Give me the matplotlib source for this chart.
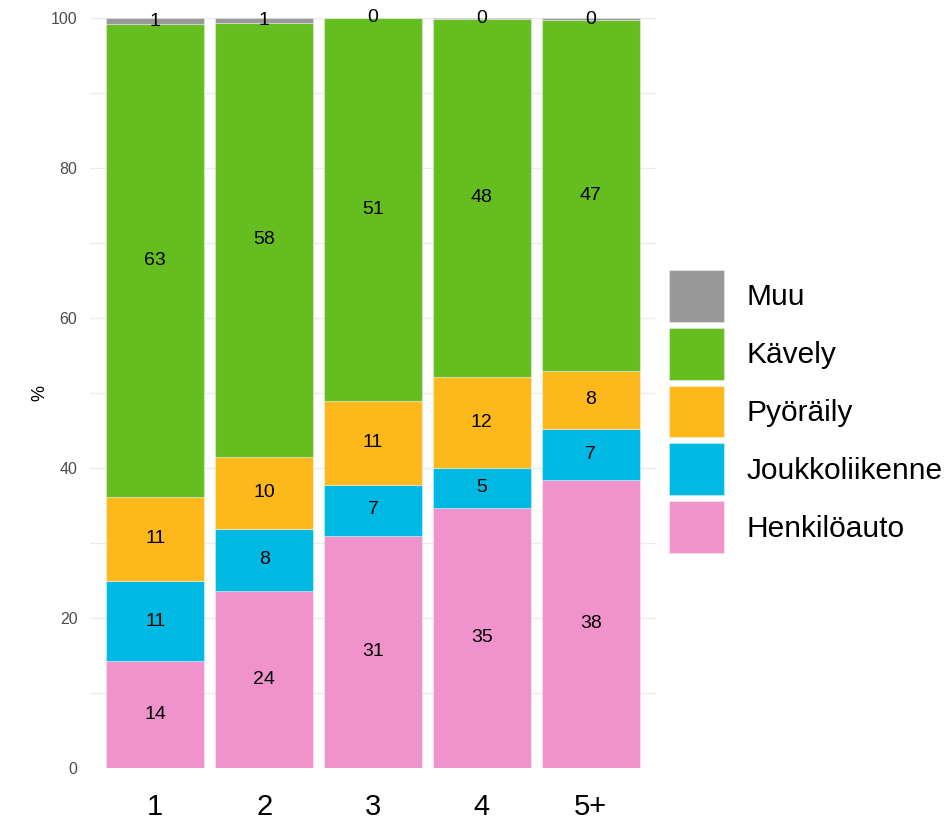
import numpy as np
import matplotlib.pyplot as plt

plt.rcParams['font.family'] = ['Liberation Sans', 'DejaVu Sans']

# household size groups
categories = ["1", "2", "3", "4", "5+"]

# share of trips by mode (%)
henkiloauto = [14.3, 23.6, 31.0, 34.7, 38.4]
joukkoliikenne = [10.6, 8.3, 6.8, 5.3, 6.8]
pyoraily = [11.3, 9.6, 11.2, 12.1, 7.8]
kavely = [63.0, 57.9, 51.0, 47.8, 46.7]
muu = [0.8, 0.6, 0.0, 0.1, 0.3]

series = [
    ("Henkilöauto", henkiloauto, "#F092CB"),
    ("Joukkoliikenne", joukkoliikenne, "#00B9E3"),
    ("Pyöräily", pyoraily, "#FDB81C"),
    ("Kävely", kavely, "#66BD20"),
    ("Muu", muu, "#999999"),
]

fig = plt.figure(figsize=(9.53, 8.23), dpi=100)
ax = fig.add_axes([90 / 953, 55 / 823, 566 / 953, 750 / 823])

x = np.arange(len(categories))
bottom = np.zeros(len(categories))
handles = []
for name, vals, col in series:
    vals = np.array(vals)
    bars = ax.bar(x, vals, 0.9, bottom=bottom, color=col, label=name,
                  edgecolor=(1, 1, 1, 0.35), linewidth=0.8, zorder=2)
    ax.bar_label(bars, labels=[f"{round(v)}" for v in vals], label_type="center",
                 fontsize=14, color="black")
    handles.append(bars)
    bottom += vals

ax.set_xlim(-0.6, len(categories) - 0.4)
ax.set_ylim(0, 100)
ax.set_yticks(range(0, 101, 20))
ax.set_yticks(range(10, 100, 20), minor=True)
ax.grid(True, axis="y", which="both", color="#EBEBEB", linewidth=1, zorder=0)
ax.set_axisbelow(True)
for s in ax.spines.values():
    s.set_visible(False)

ax.set_xticks(x)
ax.set_xticklabels(categories, fontsize=21)
ax.tick_params(axis="x", length=0, pad=18)
ax.tick_params(axis="y", which="both", length=0, pad=9, labelsize=11.5, labelcolor="#4D4D4D")
ax.set_ylabel("%", fontsize=13, labelpad=2)

ax.legend(handles[::-1], [s[0] for s in series][::-1], loc="center left",
          bbox_to_anchor=(669 / 953, 0.5), bbox_transform=fig.transFigure,
          frameon=False, fontsize=21.5, borderpad=0, borderaxespad=0,
          handlelength=1.85, handleheight=2.3, labelspacing=0.2,
          handletextpad=0.75)

plt.savefig("out.png", dpi=100)
